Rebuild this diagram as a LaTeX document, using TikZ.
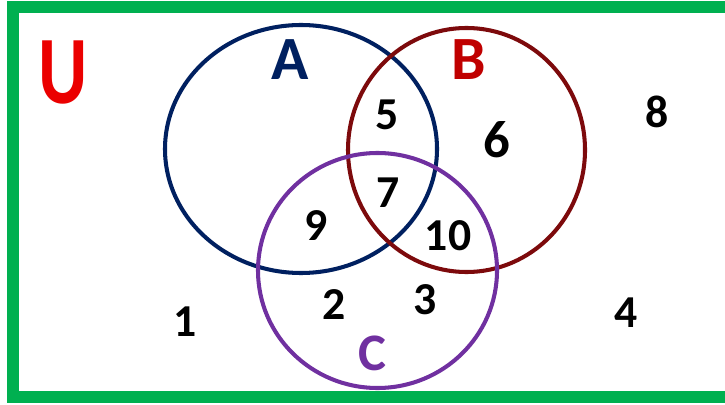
\documentclass[tikz,border=0pt]{standalone}
\usepackage{fontspec}
\setmainfont{Carlito}
\definecolor{framegreen}{RGB}{0,176,80}
\definecolor{setAblue}{RGB}{0,32,96}
\definecolor{setBdark}{RGB}{125,10,12}
\definecolor{setBred}{RGB}{192,0,0}
\definecolor{setCpurple}{RGB}{112,48,160}
\definecolor{univred}{RGB}{235,0,0}

\begin{document}
\begin{tikzpicture}[num/.style={font=\bfseries\fontsize{26}{26}\selectfont, inner sep=0pt}, setname/.style={font=\bfseries\fontsize{35}{35}\selectfont, inner sep=0pt}, ring/.style={line width=2.3pt}]
			\useasboundingbox (0, 0) rectangle (14.5, 8.08);
			\fill[white] (0, 0) rectangle (14.5, 8.08);
			\draw[framegreen, line width=0.24cm] (0.26, 0.15) rectangle (14.61, 7.93);
			\draw[ring, setAblue] (6.02, 5.10) ellipse (2.72 and 2.48);
			\draw[ring, setBdark] (9.33, 5.08) ellipse (2.37 and 2.44);
			\draw[ring, setCpurple] (7.55, 2.67) ellipse (2.39 and 2.35);
			\node[setname, univred, font=\bfseries\fontsize{55}{55}\selectfont, xscale=0.78](U) at (1.26, 6.62){U};
			\node[setname, setAblue](A) at (5.80, 6.88){A};
			\node[setname, setBred](B) at (9.38, 6.88){B};
			\node[setname, setCpurple, font=\bfseries\fontsize{30}{30}\selectfont](C) at (7.44, 1.02){C};
			\node[num](N5) at (7.74, 5.78){5};
			\node[num, font=\bfseries\fontsize{30}{30}\selectfont](N6) at (9.94, 5.28){6};
			\node[num](N7) at (7.76, 4.22){7};
			\node[num](N9) at (6.32, 3.56){9};
			\node[num](N10) at (8.96, 3.36){10};
			\node[num](N2) at (6.68, 1.98){2};
			\node[num](N3) at (8.50, 2.08){3};
			\node[num](N1) at (3.70, 1.64){1};
			\node[num](N4) at (12.52, 1.82){4};
			\node[num](N8) at (13.14, 5.84){8};
		\end{tikzpicture}
\end{document}
